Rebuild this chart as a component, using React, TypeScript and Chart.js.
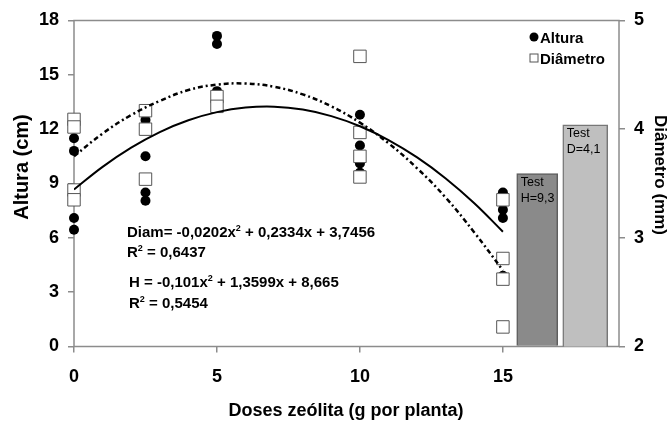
import { useEffect, useRef } from 'react';
import { Chart, registerables } from 'chart.js';

Chart.register(...registerables);

// ---- data ----
const xTicks = [0, 5, 10, 15];

const alturaDoses = [0, 0, 0, 0, 2.5, 2.5, 2.5, 2.5, 5, 5, 5, 10, 10, 10, 10, 15, 15, 15, 15];
const alturaValues = [11.5, 10.8, 7.1, 6.45, 12.5, 10.5, 8.5, 8.05, 17.15, 16.7, 14.1, 12.8, 11.1, 10.1, 9.6, 8.5, 7.55, 7.1, 3.9];

const diamDoses = [0, 0, 0, 0, 2.5, 2.5, 2.5, 5, 5, 10, 10, 10, 10, 15, 15, 15, 15];
const diamValues = [4.09, 4.02, 3.44, 3.35, 4.17, 4.0, 3.54, 4.3, 4.21, 4.67, 3.97, 3.75, 3.56, 3.35, 2.81, 2.62, 2.18];

const trendDoses = [0, 1, 2, 3, 4, 5, 6, 7, 8, 9, 10, 11, 12, 13, 14, 15];
const alturaTrend = [8.67, 9.92, 10.98, 11.84, 12.49, 12.94, 13.19, 13.24, 13.08, 12.72, 12.16, 11.4, 10.44, 9.28, 7.91, 6.34];
const diamTrend = [3.75, 3.96, 4.13, 4.26, 4.36, 4.41, 4.42, 4.39, 4.32, 4.21, 4.06, 3.87, 3.64, 3.37, 3.05, 2.7];

const testPositions = [16.2, 17.88];
const testAltura = 9.55;
const testDiam = 4.04;
const testLabels = [['Test', 'H=9,3'], ['Test', 'D=4,1']];

const diamEquation = ['Diam= -0,0202x', '2', ' + 0,2334x + 3,7456'];
const diamR2 = ['R', '2', ' = 0,6437'];
const alturaEquation = ['H = -0,101x', '2', ' + 1,3599x + 8,665'];
const alturaR2 = ['R', '2', ' = 0,5454'];

const legendLabels = ['Altura', 'Diâmetro'];
const xTitle = 'Doses zeólita (g por planta)';
const yTitle = 'Altura (cm)';
const y1Title = 'Diâmetro (mm)';

// ---- style ----
const FONT = "Arial, 'Liberation Sans', sans-serif";
const frameColor = '#8c8c8c';
const tickFont = { family: FONT, size: 18, weight: 'bold' as const };

function drawRich(ctx: CanvasRenderingContext2D, parts: string[], x: number, y: number, size: number) {
  let cx = x;
  parts.forEach((t, i) => {
    const sup = i % 2 === 1;
    ctx.font = `bold ${sup ? Math.round(size * 0.62) : size}px ${FONT}`;
    ctx.fillText(t, cx, sup ? y - size * 0.42 : y);
    cx += ctx.measureText(t).width;
  });
}

const overlay = {
  id: 'overlay',
  beforeDatasetsDraw(chart: any) {
    const { ctx, chartArea: a } = chart;
    ctx.save();
    ctx.strokeStyle = frameColor;
    ctx.lineWidth = 1.5;
    ctx.strokeRect(a.left, a.top, a.right - a.left, a.bottom - a.top);
    ctx.restore();
  },
  afterDraw(chart: any) {
    const { ctx } = chart;
    ctx.save();
    ctx.fillStyle = '#000';
    ctx.textAlign = 'left';
    ctx.textBaseline = 'alphabetic';

    // equations
    drawRich(ctx, diamEquation, 127, 237, 15);
    drawRich(ctx, diamR2, 127, 257, 15);
    drawRich(ctx, alturaEquation, 129, 287, 15);
    drawRich(ctx, alturaR2, 129, 308, 15);

    // legend
    ctx.beginPath();
    ctx.arc(534, 37, 4.5, 0, Math.PI * 2);
    ctx.fillStyle = '#000';
    ctx.fill();
    ctx.fillStyle = '#fff';
    ctx.strokeStyle = '#555';
    ctx.lineWidth = 1;
    ctx.fillRect(530, 54, 8, 8);
    ctx.strokeRect(530, 54, 8, 8);
    ctx.fillStyle = '#000';
    ctx.font = `bold 15px ${FONT}`;
    ctx.fillText(legendLabels[0], 540, 42.5);
    ctx.fillText(legendLabels[1], 540, 63.5);

    // bar labels
    ctx.font = `12.5px ${FONT}`;
    ctx.textBaseline = 'middle';
    [4, 5].forEach((di, k) => {
      const meta = chart.getDatasetMeta(di);
      const bar = meta.data[0];
      if (!bar) return;
      const left = bar.x - bar.width / 2 + 4;
      ctx.fillText(testLabels[k][0], left, bar.y + 9);
      ctx.fillText(testLabels[k][1], left, bar.y + 25);
    });

    // axis titles
    ctx.textAlign = 'center';
    ctx.textBaseline = 'middle';
    ctx.save();
    ctx.translate(22, 167);
    ctx.rotate(-Math.PI / 2);
    ctx.font = `bold 20px ${FONT}`;
    ctx.fillText(yTitle, 0, 0);
    ctx.restore();

    ctx.save();
    ctx.translate(660, 175);
    ctx.rotate(Math.PI / 2);
    ctx.font = `bold 17px ${FONT}`;
    ctx.fillText(y1Title, 0, 0);
    ctx.restore();

    ctx.textBaseline = 'alphabetic';
    ctx.font = `bold 18px ${FONT}`;
    ctx.fillText(xTitle, 346, 416);
    ctx.restore();
  },
};

export default function App() {
  const ref = useRef<HTMLCanvasElement | null>(null);

  useEffect(() => {
    if (!ref.current) return;
    const gridOpts = {
      display: true,
      drawOnChartArea: false,
      drawTicks: true,
      tickLength: 6,
      color: frameColor,
      lineWidth: 1.5,
      offset: false,
    };
    const chart = new Chart(ref.current, {
      type: 'scatter',
      data: {
        datasets: [
          {
            type: 'line',
            label: 'H trend',
            data: trendDoses.map((x, i) => ({ x, y: alturaTrend[i] })),
            borderColor: '#000',
            borderWidth: 2,
            pointRadius: 0,
            tension: 0.4,
            fill: false,
            yAxisID: 'y',
            order: 0,
          },
          {
            type: 'line',
            label: 'Diam trend',
            data: trendDoses.map((x, i) => ({ x, y: diamTrend[i] })),
            borderColor: '#000',
            borderWidth: 2.5,
            borderDash: [5, 3, 2, 3],
            pointRadius: 0,
            tension: 0.4,
            fill: false,
            yAxisID: 'y1',
            order: 0,
          },
          {
            type: 'scatter',
            label: legendLabels[1],
            data: diamDoses.map((x, i) => ({ x, y: diamValues[i] })),
            pointStyle: 'rect',
            pointRadius: 8.8,
            backgroundColor: '#fff',
            borderColor: '#555',
            borderWidth: 1,
            yAxisID: 'y1',
            clip: false,
            order: 1,
          },
          {
            type: 'scatter',
            label: legendLabels[0],
            data: alturaDoses.map((x, i) => ({ x, y: alturaValues[i] })),
            pointStyle: 'circle',
            pointRadius: 5,
            backgroundColor: '#000',
            borderColor: '#000',
            borderWidth: 0,
            yAxisID: 'y',
            clip: false,
            order: 2,
          },
          {
            type: 'bar',
            label: 'Test H',
            data: [{ x: testPositions[0], y: testAltura }],
            backgroundColor: '#8a8a8a',
            borderColor: '#5e5e5e',
            borderWidth: 1.5,
            grouped: false,
            barThickness: 41,
            maxBarThickness: 41,
            yAxisID: 'y',
            order: 3,
          },
          {
            type: 'bar',
            label: 'Test D',
            data: [{ x: testPositions[1], y: testDiam }],
            backgroundColor: '#bfbfbf',
            borderColor: '#777',
            borderWidth: 1.5,
            grouped: false,
            barThickness: 45,
            maxBarThickness: 45,
            yAxisID: 'y1',
            order: 3,
          },
        ] as any,
      },
      options: {
        animation: false,
        responsive: false,
        devicePixelRatio: 1,
        events: [],
        layout: { padding: { top: 20.5, left: 0, right: 0, bottom: 0 } },
        plugins: { legend: { display: false }, tooltip: { enabled: false }, title: { display: false } },
        scales: {
          x: {
            type: 'linear',
            min: 0,
            max: 19.06,
            offset: false,
            grid: gridOpts,
            border: { display: false },
            afterBuildTicks: (s: any) => {
              s.ticks = xTicks.map((v) => ({ value: v }));
            },
            afterFit: (s: any) => {
              s.height = 75.5;
            },
            ticks: { padding: 14, font: tickFont, color: '#000', maxRotation: 0 },
          },
          y: {
            type: 'linear',
            position: 'left',
            min: 0,
            max: 18,
            grid: gridOpts,
            border: { display: false },
            ticks: { stepSize: 3, padding: 9, font: tickFont, color: '#000' },
            afterFit: (s: any) => {
              s.width = 74;
            },
          },
          y1: {
            type: 'linear',
            position: 'right',
            min: 2,
            max: 5,
            grid: gridOpts,
            border: { display: false },
            ticks: { stepSize: 1, padding: 9, font: tickFont, color: '#000' },
            afterFit: (s: any) => {
              s.width = 50;
            },
          },
        },
      } as any,
      plugins: [overlay],
    });
    return () => chart.destroy();
  }, []);

  return (
    <div style={{ position: 'fixed', left: 0, top: 0, width: 669, height: 422, background: '#fff' }}>
      <canvas ref={ref} width={669} height={422} style={{ display: 'block', width: 669, height: 422 }} />
    </div>
  );
}
